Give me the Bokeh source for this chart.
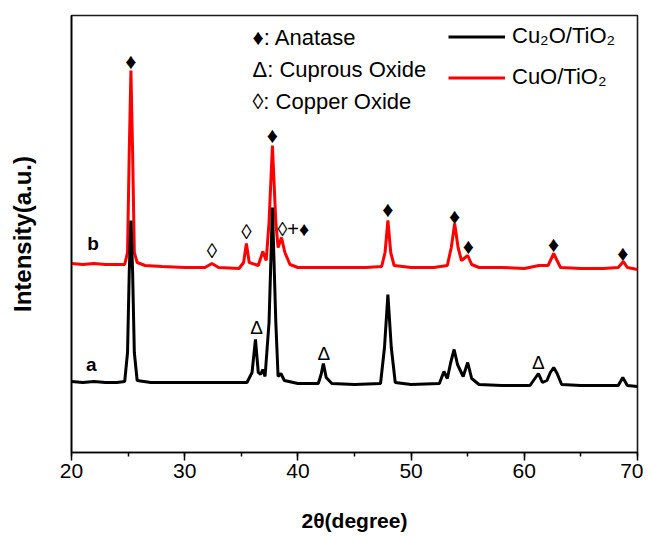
from bokeh.plotting import figure
from bokeh.models import (Legend, LegendItem, Label, FixedTicker,
                          SingleIntervalTicker, ColumnDataSource)
from bokeh.core.properties import value
from bokeh.embed import file_html
from bokeh.resources import INLINE

FONT = "Liberation Sans"

# ---------------- data (intensity in a.u.) -------------
# curve b : CuO/TiO2 (red)
b_theta = [20.0, 21.0, 22.0, 23.0, 24.0, 24.7, 24.95, 25.1, 25.25, 25.4, 25.55,
           25.8, 26.5, 28.0, 30.0, 31.8, 32.4, 33.0, 34.8, 35.2, 35.45, 35.7,
           36.5, 36.9, 37.2, 37.45, 37.75, 38.05, 38.25, 38.55, 38.85, 39.3,
           40.0, 42.0, 44.0, 46.0, 47.4, 47.7, 47.95, 48.2, 48.5, 50.0, 52.0,
           53.2, 53.55, 53.85, 54.15, 54.45, 55.0, 55.35, 56.0, 58.0, 60.0,
           61.3, 62.1, 62.35, 62.6, 62.85, 63.2, 65.0, 67.0, 68.3, 68.75, 69.1,
           70.0]
b_int = [189, 188, 189, 188, 188, 188, 200, 300, 382, 300, 200,
         190, 187, 186, 185, 185, 189, 185, 184, 190, 209, 190,
         187, 201, 192, 230, 307, 230, 205, 215, 200, 188,
         185, 185, 185, 185, 186, 200, 232, 200, 187, 185, 185,
         187, 205, 229, 205, 192, 197, 188, 185, 185, 184,
         187, 187, 193, 199, 193, 185, 184, 184, 185, 191, 185,
         183]

# curve a : Cu2O/TiO2 (black)
a_theta = [20.0, 21.0, 22.0, 23.0, 24.0, 24.7, 24.95, 25.1, 25.25, 25.4, 25.55,
           25.8, 27.0, 30.0, 33.0, 35.5, 35.95, 36.25, 36.5, 36.7, 36.9, 37.1,
           37.45, 37.75, 38.05, 38.25, 38.5, 38.8, 40.0, 41.8, 42.05, 42.25,
           42.5, 43.0, 45.0, 47.3, 47.65, 47.95, 48.25, 48.6, 50.0, 52.5, 52.9,
           53.2, 53.5, 53.8, 54.1, 54.6, 55.0, 55.35, 56.0, 58.0, 60.5, 61.25,
           61.6, 62.0, 62.3, 62.6, 62.9, 63.3, 65.0, 68.3, 68.7, 69.1, 70.0]
a_int = [71, 70, 71, 70, 70, 71, 100, 180, 232, 180, 100,
         72, 70, 70, 70, 70, 80, 113, 80, 78, 83, 76,
         130, 245, 130, 76, 79, 72, 69, 69, 78, 89,
         75, 69, 68, 69, 105, 158, 105, 70, 68, 69, 81,
         74, 90, 103, 88, 76, 90, 74, 68, 67, 67, 79,
         70, 72, 80, 85, 79, 68, 67, 67, 75, 67, 66]

# phase markers
anatase_theta = [25.25, 37.75, 47.95, 53.85, 55.05, 62.6, 68.7]
anatase_int = [391, 317, 243, 236, 206, 208, 199]
cuo_theta = [32.4, 35.45]
cuo_int = [202, 221]
cuo_ana_theta = [39.6]
cuo_ana_int = [224]
cu2o_theta = [36.35, 42.3, 61.25]
cu2o_int = [125, 99, 90]

series_names = ["Cu\u2082O/TiO\u2082", "CuO/TiO\u2082"]
phase_keys = ["\u2666: Anatase", "\u0394: Cuprous Oxide", "\u25CA: Copper Oxide"]

# ---------------- figure -------------------------------------------------------
p = figure(frame_width=566, frame_height=437, x_range=(20, 70), y_range=(0, 437),
           output_backend="svg", toolbar_location=None,
           min_border_left=71, min_border_right=6, min_border_top=15,
           min_border_bottom=76)
p.xgrid.visible = False
p.ygrid.visible = False
p.outline_line_color = "#1a1a1a"
p.outline_line_width = 1.6
p.outline_line_alpha = 1.0

r_red = p.line(b_theta, b_int, line_color="#ff0000", line_width=3)
r_blk = p.line(a_theta, a_int, line_color="#000000", line_width=3)

def marks(xs, ys, ch, size):
    src = ColumnDataSource(dict(x=xs, y=ys, t=[ch] * len(xs)))
    p.text(x="x", y="y", text="t", source=src, text_align="center",
           text_baseline="middle", text_font=value(FONT),
           text_font_size=value(size), text_color="#000000")

marks(anatase_theta, anatase_int, "\u2666", "22px")
marks(cuo_theta, cuo_int, "\u25CA", "21px")
marks(cuo_ana_theta, cuo_ana_int, "\u25CA+\u2666", "20px")
marks(cu2o_theta, cu2o_int, "\u0394", "19px")

# series letters
for txt, xx, yy in [("b", 21.9, 209), ("a", 21.75, 88)]:
    p.add_layout(Label(x=xx, y=yy, text=txt, text_align="center",
                       text_baseline="middle", text_font=FONT,
                       text_font_size="19px", text_font_style="bold",
                       text_color="#000000"))

# phase key text (top middle)
for i, t in enumerate(phase_keys):
    p.add_layout(Label(x=181, y=415 - 32 * i, x_units="screen", y_units="screen",
                       text=t, text_align="left", text_baseline="middle",
                       text_font=FONT, text_font_size="22px",
                       text_color="#000000"))

# axes
xa = p.xaxis[0]
xa.ticker = SingleIntervalTicker(interval=10, num_minor_ticks=2)
xa.major_tick_out = 8
xa.major_tick_in = 0
xa.minor_tick_out = 4
xa.minor_tick_in = 0
xa.major_tick_line_width = 1.5
xa.minor_tick_line_width = 1.5
xa.axis_line_width = 1.6
xa.major_label_text_font = FONT
xa.major_label_text_font_size = "21px"
xa.major_label_text_color = "#000000"
xa.major_label_standoff = 3
xa.axis_label = "2\u03b8(degree)"
xa.axis_label_text_font = FONT
xa.axis_label_text_font_size = "21px"
xa.axis_label_text_font_style = "bold"
xa.axis_label_text_color = "#000000"
xa.axis_label_standoff = 28

ya = p.yaxis[0]
ya.ticker = FixedTicker(ticks=[])
ya.major_tick_out = 0
ya.major_tick_in = 0
ya.minor_tick_out = 0
ya.minor_tick_in = 0
ya.axis_line_width = 1.6
ya.major_label_standoff = 0
ya.axis_label = "Intensity(a.u.)"
ya.axis_label_text_font = FONT
ya.axis_label_text_font_size = "24px"
ya.axis_label_text_font_style = "bold"
ya.axis_label_text_color = "#000000"
ya.axis_label_standoff = 36

legend = Legend(items=[LegendItem(label=series_names[0], renderers=[r_blk]),
                       LegendItem(label=series_names[1], renderers=[r_red])],
                location=(377, 362), orientation="vertical",
                border_line_color=None, background_fill_alpha=0,
                padding=0, margin=0, spacing=15, glyph_width=57,
                glyph_height=25, label_height=25, label_standoff=7,
                label_text_font=FONT, label_text_font_size="22px",
                label_text_color="#000000")
p.add_layout(legend)

open("out.html", "w").write(file_html(p, INLINE))
